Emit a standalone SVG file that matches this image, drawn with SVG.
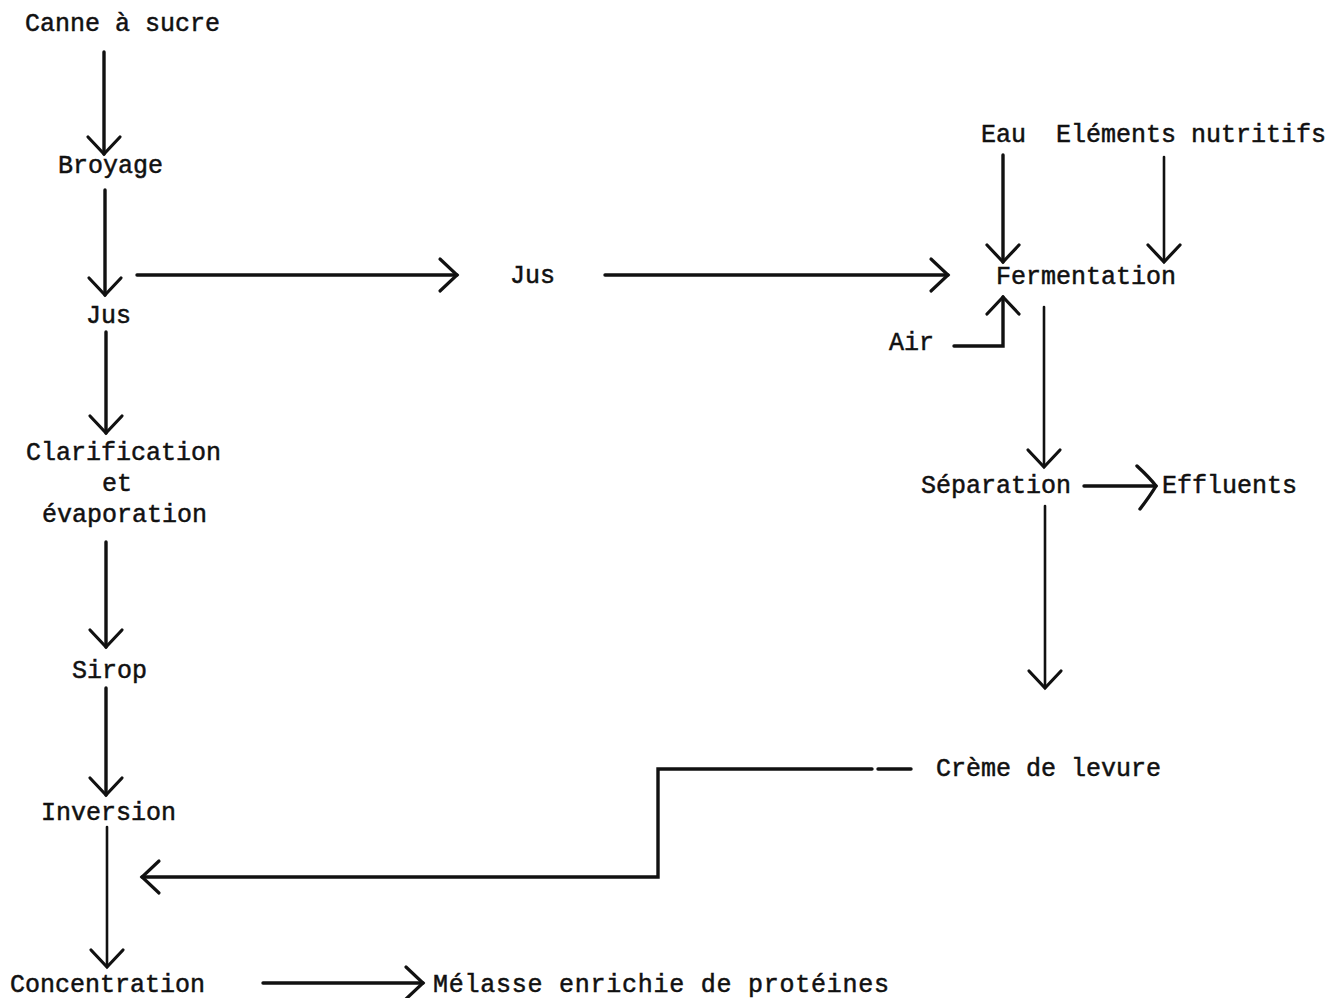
<svg xmlns="http://www.w3.org/2000/svg" width="1333" height="998" viewBox="0 0 1333 998">
<style>
text{font-family:"Liberation Mono","DejaVu Sans Mono",monospace;font-size:25px;fill:#111;stroke:#111;stroke-width:0.5}
.c{fill:none;stroke:#111;stroke-width:3.4;stroke-linecap:round;stroke-linejoin:miter}
.t{stroke-width:2.6}
</style>
<defs>
<marker id="ah" markerUnits="userSpaceOnUse" markerWidth="40" markerHeight="40" viewBox="-20 -20 40 40" refX="0" refY="0" orient="auto">
<path d="M-17,-16 L0,0 L-17,16" fill="none" stroke="#111" stroke-width="3.2" stroke-linecap="round"/>
</marker>
<marker id="ahw" markerUnits="userSpaceOnUse" markerWidth="50" markerHeight="50" viewBox="-25 -25 50 50" refX="0" refY="0" orient="auto">
<path d="M-19,-20 Q-6,-8 0,0 Q-6,10 -16,23" fill="none" stroke="#111" stroke-width="3.4" stroke-linecap="round"/>
</marker>
</defs>
<rect width="1333" height="998" fill="#fff"/>
<g id="connectors">
<path class="c" d="M104,52 V154" marker-end="url(#ah)"/>
<path class="c" d="M105,190 V295" marker-end="url(#ah)"/>
<path class="c" d="M106,332 V433" marker-end="url(#ah)"/>
<path class="c" d="M106,542 V647" marker-end="url(#ah)"/>
<path class="c" d="M106,688 V795" marker-end="url(#ah)"/>
<path class="c t" d="M107,827 V967" marker-end="url(#ah)"/>
<path class="c" d="M137,275 H457" marker-end="url(#ah)"/>
<path class="c" d="M605,275 H948" marker-end="url(#ah)"/>
<path class="c" d="M1003,155 V262" marker-end="url(#ah)"/>
<path class="c t" d="M1164,157 V262" marker-end="url(#ah)"/>
<path class="c" d="M954,346 H1003 V297" marker-end="url(#ah)"/>
<path class="c t" d="M1044,307 V467" marker-end="url(#ah)"/>
<path class="c" d="M1084,486 H1156" marker-end="url(#ahw)"/>
<path class="c t" d="M1045,506 V688" marker-end="url(#ah)"/>
<path class="c" d="M878,769 H911"/>
<path class="c" d="M872,769 H658 V877 H142" marker-end="url(#ah)"/>
<path class="c" d="M263,983 H423" marker-end="url(#ah)"/>
</g>
<g id="n-canne"><text x="25" y="31">Canne à sucre</text></g>
<g id="n-broyage"><text x="58" y="173">Broyage</text></g>
<g id="n-jus1"><text x="86" y="323">Jus</text></g>
<g id="n-clarif"><text x="26" y="460">Clarification</text><text x="102" y="491">et</text><text x="42" y="522">évaporation</text></g>
<g id="n-sirop"><text x="72" y="678">Sirop</text></g>
<g id="n-inversion"><text x="41" y="820">Inversion</text></g>
<g id="n-concentration"><text x="10" y="992">Concentration</text></g>
<g id="n-melasse"><text x="433" y="992" textLength="456">Mélasse enrichie de protéines</text></g>
<g id="n-jus2"><text x="510" y="283">Jus</text></g>
<g id="n-eau"><text x="981" y="142">Eau</text></g>
<g id="n-nutritifs"><text x="1056" y="142">Eléments nutritifs</text></g>
<g id="n-fermentation"><text x="996" y="284">Fermentation</text></g>
<g id="n-air"><text x="889" y="350">Air</text></g>
<g id="n-separation"><text x="921" y="493">Séparation</text></g>
<g id="n-effluents"><text x="1162" y="493">Effluents</text></g>
<g id="n-creme"><text x="936" y="776">Crème de levure</text></g>
</svg>
